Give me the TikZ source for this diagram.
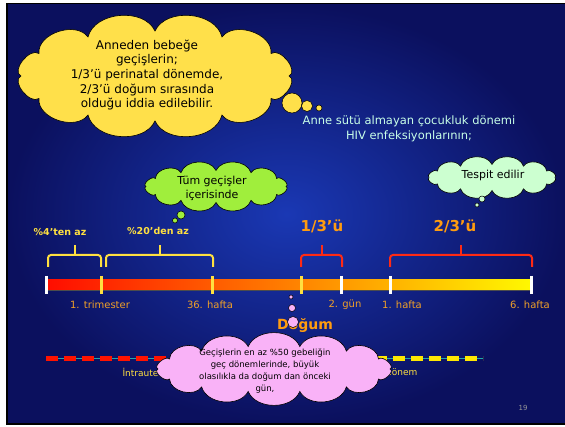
\documentclass[tikz,border=0pt]{standalone}
\usepackage{fontspec}
\setmainfont{DejaVu Sans}
\usetikzlibrary{positioning}
\definecolor{slideedge}{HTML}{0B105E}
\definecolor{slidecore}{HTML}{1A38B4}
\definecolor{cloudyellow}{HTML}{FFE04A}
\definecolor{cloudgreen}{HTML}{A0EE3C}
\definecolor{cloudmint}{HTML}{CCFFD0}
\definecolor{cloudpink}{HTML}{F9B2F7}
\definecolor{labelorange}{HTML}{F0A028}
\definecolor{boldorange}{HTML}{FF9C10}
\definecolor{braceyellow}{HTML}{FFE040}
\definecolor{bracered}{HTML}{FF2A14}
\definecolor{palecyan}{HTML}{C8FFE8}
\definecolor{dashteal}{HTML}{20A8A8}
% cloud outline: style, centre x, centre y, radius x, radius y, puffs
\newcommand\puffcloud[6]{%
  \filldraw[draw=black, line width=0.6pt, #1] ({#2+#4},#3)
    \foreach \k [evaluate={\k as \tp using (\k-1)*360/#6},
                 evaluate={\k as \tk using \k*360/#6},
                 evaluate={\k as \px using #2+#4*cos(\tk)},
                 evaluate={\k as \py using #3+#5*sin(\tk)},
                 evaluate={\k as \ao using -atan2(#4*sin(\tp),#5*cos(\tp))-25},
                 evaluate={\k as \ai using -atan2(#4*sin(\tk),#5*cos(\tk))+25}] in {1,...,#6}
    { to[out=\ao, in=\ai] (\px,\py) } -- cycle;
}
\tikzset{
  puff/.style={draw=black, line width=0.5pt},
  cloudtext/.style={align=center, inner sep=0pt, text=black},
  tickmark/.style={line width=3pt},
  bracket/.style={line width=2pt, rounded corners=3pt},
  axislabel/.style={text=labelorange, font=\fontsize{10}{12}\selectfont},
  sharelabel/.style={text=boldorange, font=\fontsize{15}{18}\selectfont\bfseries},
  partlabel/.style={text=braceyellow, font=\fontsize{9.5}{11}\selectfont\bfseries},
}
\begin{document}
\begin{tikzpicture}[x=1pt,y=-1pt]
\useasboundingbox (0,0) rectangle (565,427);
% slide frame
\fill[white] (0,0) rectangle (565,427);
\fill[black] (6,3) rectangle (565,425);
\shade[inner color=slidecore, outer color=slideedge] (8,5) rectangle (565,423);
% timeline bar
\shade[left color=red!90!orange, right color=yellow!95!orange, middle color=orange]
  (46,280) rectangle (532,290);
\draw[black!70, line width=0.6pt] (46,290.5) -- (532,290.5);
\foreach \x/\c in {46/white,101/braceyellow,212/braceyellow,301/braceyellow,
                   341/white,390/white,531/white}
  \draw[tickmark,\c] (\x,276) -- (\x,294);
% axis labels
\node[axislabel] (trim)  at (100,305) {1. trimester};
\node[axislabel] (h36)   at (210,305) {36. hafta};
\node[axislabel] (gun2)  at (345,305) {2. gün};
\node[axislabel] (h1)    at (402,305) {1. hafta};
\node[axislabel] (h6)    at (530,305) {6. hafta};
% braces
\foreach \a/\b/\c in {48/101/braceyellow,106/213/braceyellow,301/342/bracered,390/532/bracered}{
  \draw[bracket,\c] (\a,267) |- ({(\a+\b)/2},255) -| (\b,267);
  \draw[bracket,\c] ({(\a+\b)/2},255.5) -- ({(\a+\b)/2},245);
}
\node[partlabel] (lt4)  at (60,232) {\%4'ten az};
\node[partlabel] (lt20) at (158,231) {\%20'den az};
\node[sharelabel] (third)  at (322,226) {1/3'ü};
\node[sharelabel] (twothd) at (455,226) {2/3'ü};
% periods
\draw[dashteal, line width=1pt] (46,359) -- (483,359);
\draw[red!85!orange, line width=5pt, dash pattern=on 12pt off 6pt] (46,359) -- (200,359);
\draw[yellow!90!orange, line width=5pt, dash pattern=on 12pt off 6pt] (375,359) -- (483,359);
\node[text=braceyellow, font=\fontsize{9}{11}\selectfont, anchor=west] (intra) at (119,372) {İntrauterin dönem};
\node[text=braceyellow, font=\fontsize{9}{11}\selectfont, anchor=east] (post) at (421,372) {Postnatal dönem};
% headline text
\node[text=palecyan, align=center, font=\fontsize{11.5}{15}\selectfont] (hivtext) at (409,129)
  {Anne sütü almayan çocukluk dönemi\\HIV enfeksiyonlarının;};
% clouds
\puffcloud{fill=cloudyellow}{155}{76}{134}{45}{12}
\node[cloudtext, font=\fontsize{12}{14.6}\selectfont] (claim) at (147,75)
  {Anneden bebeğe\\geçişlerin;\\1/3'ü perinatal dönemde,\\2/3'ü doğum sırasında\\olduğu iddia edilebilir.};
\fill[cloudyellow, puff] (292,103) circle (10);
\fill[cloudyellow, puff] (307,106) circle (5.5);
\fill[cloudyellow, puff] (319,108) circle (3);
\puffcloud{fill=cloudgreen}{216}{186.5}{70}{16}{12}
\node[cloudtext, font=\fontsize{11}{14}\selectfont] (alltrans) at (212,188) {Tüm geçişler\\içerisinde};
\fill[cloudgreen, puff] (181,215) circle (4);
\fill[cloudgreen, puff] (175,220.5) circle (2.5);
\puffcloud{fill=cloudmint}{492}{177.5}{63}{13}{12}
\node[cloudtext, font=\fontsize{11}{14}\selectfont] (fixed) at (493,175) {Tespit edilir};
\fill[cloudmint, puff] (482,199) circle (3);
\fill[cloudmint, puff] (477,205) circle (2);
\puffcloud{fill=cloudpink}{274}{369}{116}{23}{14}
\node[cloudtext, font=\fontsize{8.5}{12}\selectfont] (late) at (265,371)
  {Geçişlerin en az \%50 gebeliğin\\geç dönemlerinde, büyük\\olasılıkla da doğum dan önceki\\gün,};
\node[text=boldorange, font=\fontsize{14}{16}\selectfont\bfseries] (birth) at (305,326) {Doğum};
\fill[cloudpink, puff] (291,297) circle (2);
\fill[cloudpink, puff] (292,308) circle (3.5);
\fill[cloudpink, puff] (293,322) circle (5.5);
% page number
\node[text=black!40, font=\fontsize{7}{8}\selectfont] (pageno) at (523,408) {19};
\end{tikzpicture}
\end{document}
